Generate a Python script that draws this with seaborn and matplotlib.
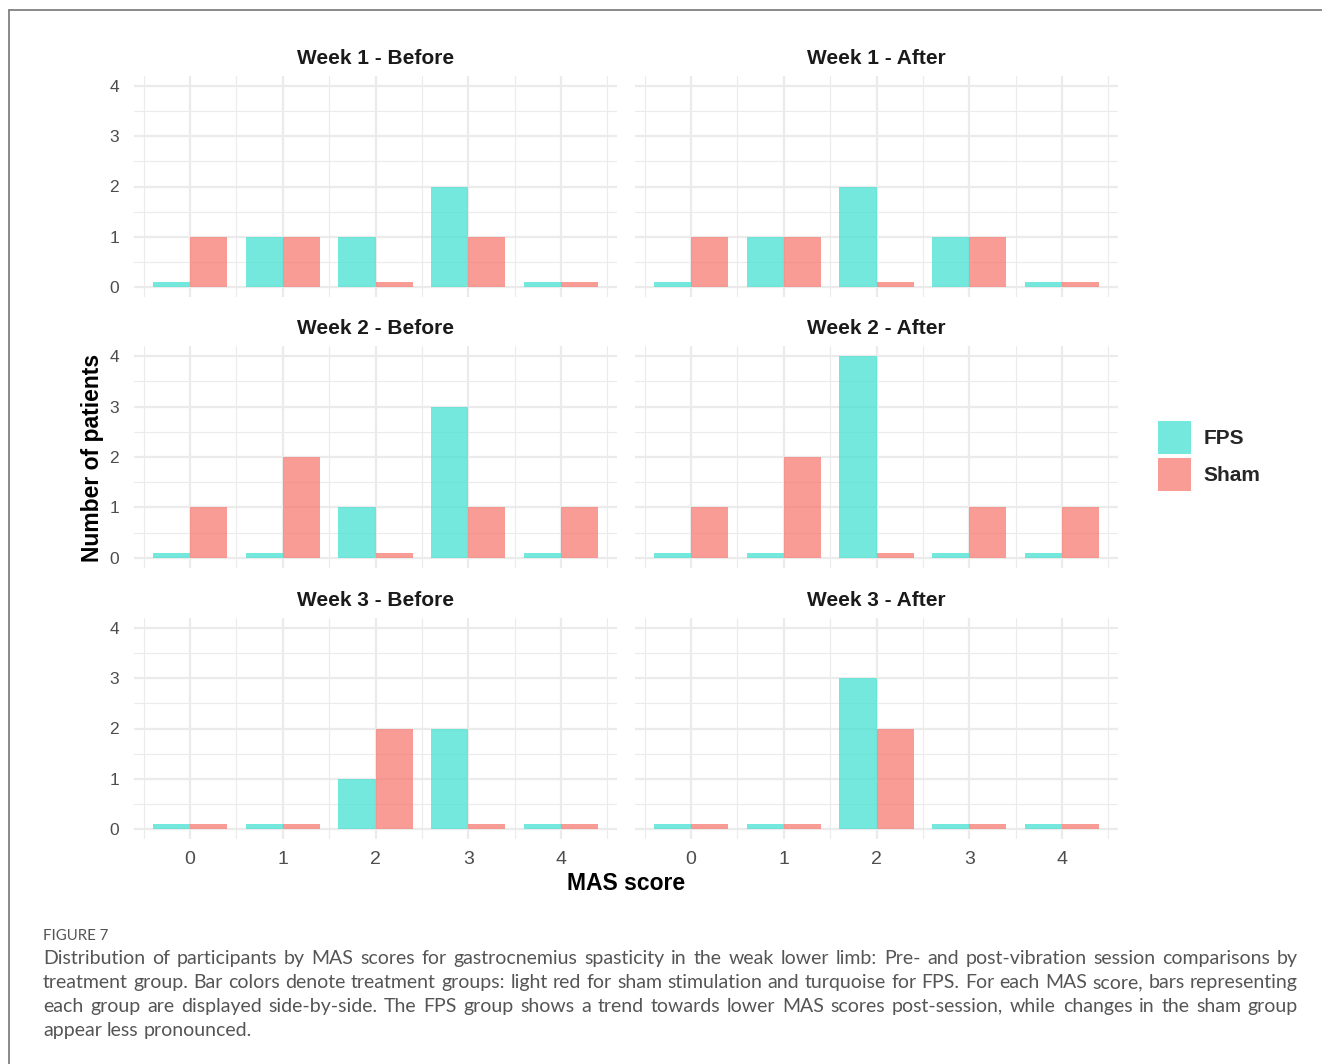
import matplotlib
matplotlib.use("Agg")
import matplotlib.pyplot as plt
from matplotlib.patches import Patch
from matplotlib.lines import Line2D
import numpy as np
import pandas as pd
import seaborn as sns

# ---- data: number of patients per MAS score, by week / session / group ----
mas_scores = [0, 1, 2, 3, 4]
groups = ["FPS", "Sham"]
panel_titles = ["Week 1 - Before", "Week 1 - After",
                "Week 2 - Before", "Week 2 - After",
                "Week 3 - Before", "Week 3 - After"]

fps_w1_before = [0, 1, 1, 2, 0]
sham_w1_before = [1, 1, 0, 1, 0]
fps_w1_after = [0, 1, 2, 1, 0]
sham_w1_after = [1, 1, 0, 1, 0]
fps_w2_before = [0, 0, 1, 3, 0]
sham_w2_before = [1, 2, 0, 1, 1]
fps_w2_after = [0, 0, 4, 0, 0]
sham_w2_after = [1, 2, 0, 1, 1]
fps_w3_before = [0, 0, 1, 2, 0]
sham_w3_before = [0, 0, 2, 0, 0]
fps_w3_after = [0, 0, 3, 0, 0]
sham_w3_after = [0, 0, 2, 0, 0]

# empty categories are shown as a thin stub so both groups stay visible
ZERO_STUB = 0.1

panel_counts = [
    (fps_w1_before, sham_w1_before), (fps_w1_after, sham_w1_after),
    (fps_w2_before, sham_w2_before), (fps_w2_after, sham_w2_after),
    (fps_w3_before, sham_w3_before), (fps_w3_after, sham_w3_after),
]

rows = []
for title, (fps, sham) in zip(panel_titles, panel_counts):
    for grp, vals in zip(groups, (fps, sham)):
        for s, v in zip(mas_scores, vals):
            rows.append({"panel": title, "score": s, "group": grp,
                         "count": v, "height": v if v > 0 else ZERO_STUB})
df = pd.DataFrame(rows)

palette = {"FPS": "#40E0D0", "Sham": "#F8766D"}
ALPHA = 0.72

sns.set_theme(style="white")
plt.rcParams["font.family"] = ["Liberation Sans", "DejaVu Sans"]

W, H = 1322, 1064
fig = plt.figure(figsize=(W / 100, H / 100), dpi=100)
fig.patch.set_facecolor("white")

# panel boxes in pixel units: (left, right) per column, (top, bottom) per row
col_px = [(134.4, 616.7), (635.4, 1117.7)]
row_px = [(76.0, 297.0), (346.0, 568.0), (618.0, 839.0)]

grid_col = "#EBEBEB"
tick_col = "#4D4D4D"

for i, title in enumerate(panel_titles):
    r, c = divmod(i, 2)
    x0, x1 = col_px[c]
    y0, y1 = row_px[r]
    ax = fig.add_axes([x0 / W, 1 - y1 / H, (x1 - x0) / W, (y1 - y0) / H])
    sub = df[df["panel"] == title]
    sns.barplot(data=sub, x="score", y="height", hue="group",
                order=mas_scores, hue_order=groups, palette=palette,
                saturation=1, alpha=ALPHA, width=0.8, linewidth=0,
                errorbar=None, legend=False, ax=ax, zorder=3)
    ax.set_xlim(-0.6, 4.6)
    ax.set_ylim(-0.2, 4.2)
    ax.set_facecolor("none")
    for sp in ax.spines.values():
        sp.set_visible(False)

    ax.set_yticks([0, 1, 2, 3, 4])
    ax.set_yticks([0.5, 1.5, 2.5, 3.5], minor=True)
    ax.set_xticks(range(5))
    ax.set_xticks([-0.5, 0.5, 1.5, 2.5, 3.5, 4.5], minor=True)
    ax.grid(True, which="major", color=grid_col, linewidth=1.6, zorder=0)
    ax.grid(True, which="minor", color=grid_col, linewidth=0.8, zorder=0)
    ax.set_axisbelow(True)
    ax.tick_params(which="both", length=0)
    ax.tick_params(axis="y", pad=11, labelsize=12.5, labelcolor=tick_col)
    ax.tick_params(axis="x", pad=9, labelsize=14, labelcolor=tick_col)
    ax.set_xticklabels([str(s) for s in mas_scores])
    if c == 1:
        ax.set_yticklabels([])
    if r < 2:
        ax.set_xticklabels([])
    ax.set_xlabel("")
    ax.set_ylabel("")
    ax.set_title(title, fontsize=15, fontweight="bold", color="#1A1A1A", pad=9)

# shared axis titles
fig.text(93 / W, 1 - 458 / H, "Number of patients", rotation=90,
         ha="center", va="center", fontsize=16.5, fontweight="bold", color="black")
fig.text(626 / W, 1 - 883 / H, "MAS score", ha="center", va="center",
         fontsize=16.5, fontweight="bold", color="black")

# legend
handles = [Patch(facecolor=palette[g], alpha=ALPHA, edgecolor="none") for g in groups]
fig.legend(handles, groups, loc="upper left",
           bbox_to_anchor=(1158 / W, 1 - 421 / H), frameon=False,
           prop={"size": 15, "weight": "bold"}, handlelength=1.58,
           handleheight=2.06, labelspacing=0.19, handletextpad=0.62,
           borderpad=0, borderaxespad=0)

# page frame (top and left edges)
fig.add_artist(Line2D([9 / W, 1.0], [1 - 10 / H, 1 - 10 / H], color="#808080",
                      linewidth=1.3))
fig.add_artist(Line2D([9 / W, 9 / W], [0.0, 1 - 10 / H], color="#808080",
                      linewidth=1.3))

# figure caption, justified between the margins
cap_font = {"family": ["Lato", "DejaVu Sans"], "fontsize": 14, "color": "#555555"}
fig.text(43 / W, 1 - 940 / H, "FIGURE 7", ha="left", va="baseline",
         fontsize=10.8, color="#555555", family=["Lato", "DejaVu Sans"])

caption_lines = [
    "Distribution of participants by MAS scores for gastrocnemius spasticity in the weak lower limb: Pre- and post-vibration session comparisons by",
    "treatment group. Bar colors denote treatment groups: light red for sham stimulation and turquoise for FPS. For each MAS score, bars representing",
    "each group are displayed side-by-side. The FPS group shows a trend towards lower MAS scores post-session, while changes in the sham group",
    "appear less pronounced.",
]
renderer = fig.canvas.get_renderer()
left_px, right_px = 43, 1298
for k, line in enumerate(caption_lines):
    baseline = 964 + 24 * k
    words = line.split()
    texts = [fig.text(0, 0, w, ha="left", va="baseline", **cap_font) for w in words]
    widths = [t.get_window_extent(renderer).width for t in texts]
    if k < len(caption_lines) - 1 and len(words) > 1:
        gap = (right_px - left_px - sum(widths)) / (len(words) - 1)
    else:
        sp = fig.text(0, 0, "a a", **cap_font)
        sp2 = fig.text(0, 0, "aa", **cap_font)
        gap = sp.get_window_extent(renderer).width - sp2.get_window_extent(renderer).width
        sp.remove()
        sp2.remove()
    x = left_px
    for t, w in zip(texts, widths):
        t.set_position((x / W, 1 - baseline / H))
        x += w + gap

fig.savefig("out.png", dpi=100, facecolor="white")
